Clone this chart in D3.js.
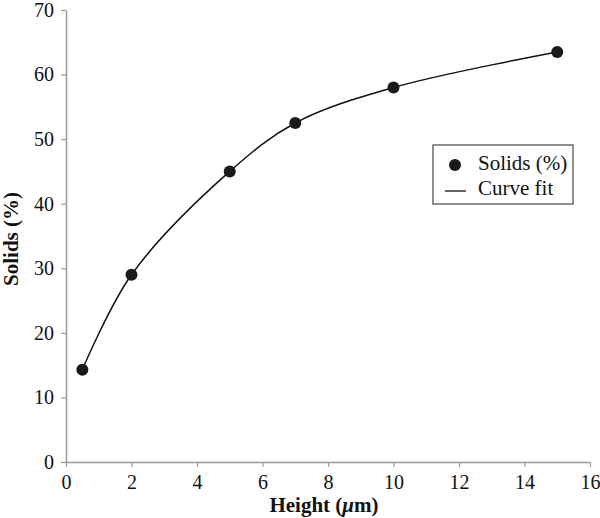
<!DOCTYPE html>
<html><head><meta charset="utf-8">
<script src="https://cdn.jsdelivr.net/npm/d3@7"></script>
<style>body{margin:0;background:#fff}</style>
</head><body>
<svg id="c" width="600" height="518"></svg>
<script>
const heights = [0.5, 2, 5, 7, 10, 15];
const solids = [14.3, 29, 45, 52.5, 58, 63.5];
const xTicks = [0, 2, 4, 6, 8, 10, 12, 14, 16];
const yTicks = [0, 10, 20, 30, 40, 50, 60, 70];
const legendLabels = ["Solids (%)", "Curve fit"];

const svg = d3.select("#c");
const font = "'Liberation Serif', 'Times New Roman', serif";
const x = d3.scaleLinear().domain([0, 16]).range([66, 590]);
const y = d3.scaleLinear().domain([0, 70]).range([462, 10]);
const axisColor = "#9a9a9a";

const gx = svg.append("g").attr("transform", `translate(0,${y(0)})`)
  .call(d3.axisBottom(x).tickValues(xTicks).tickSize(5).tickSizeOuter(0).tickPadding(8));
const gy = svg.append("g").attr("transform", `translate(${x(0)},0)`)
  .call(d3.axisLeft(y).tickValues(yTicks).tickSize(5).tickSizeOuter(0).tickPadding(7));
for (const g of [gx, gy]) {
  g.attr("font-family", font).attr("font-size", 20);
  g.select(".domain").attr("stroke", axisColor).attr("stroke-width", 1.5);
  g.selectAll(".tick line").attr("stroke", axisColor).attr("stroke-width", 1.2);
  g.selectAll(".tick text").attr("fill", "#111").style("font-family", font).style("font-size", "20px");
}

const pts = heights.map((h, i) => [h, solids[i]]);
svg.append("path").datum(pts)
  .attr("d", d3.line().x(d => x(d[0])).y(d => y(d[1])).curve(d3.curveCatmullRom.alpha(0.5)))
  .attr("fill", "none").attr("stroke", "#111").attr("stroke-width", 1.5);

svg.selectAll("circle.pt").data(pts).join("circle").attr("class", "pt")
  .attr("cx", d => x(d[0])).attr("cy", d => y(d[1])).attr("r", 6).attr("fill", "#1a1a1a");

// axis titles
const xt = svg.append("text").attr("x", 324).attr("y", 512).attr("text-anchor", "middle")
  .style("font-family", font).style("font-size", "21px").attr("font-weight", "bold").attr("fill", "#111");
xt.append("tspan").text("Height (");
xt.append("tspan").attr("font-style", "italic").text("\u03bc");
xt.append("tspan").text("m)");

svg.append("text").attr("transform", `translate(18,239) rotate(-90)`).attr("text-anchor", "middle")
  .style("font-family", font).style("font-size", "21px").attr("font-weight", "bold").attr("fill", "#111")
  .text("Solids (%)");

// legend
const lg = svg.append("g");
lg.append("rect").attr("x", 433).attr("y", 145).attr("width", 140).attr("height", 59)
  .attr("fill", "#fff").attr("stroke", "#444").attr("stroke-width", 1.2);
lg.append("circle").attr("cx", 455).attr("cy", 165).attr("r", 6).attr("fill", "#1a1a1a");
lg.append("line").attr("x1", 445).attr("x2", 466).attr("y1", 191).attr("y2", 191).attr("stroke", "#111").attr("stroke-width", 1.3);
lg.selectAll("text").data(legendLabels).join("text")
  .attr("x", 478).attr("y", (d, i) => 170 + i * 25)
  .style("font-family", font).style("font-size", "21px").attr("fill", "#111").text(d => d);
</script>
</body></html>
